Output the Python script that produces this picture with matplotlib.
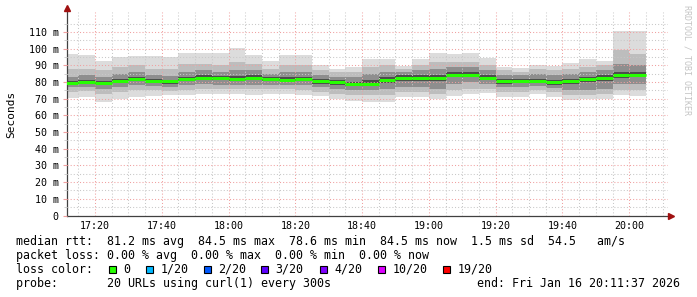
import numpy as np
import pandas as pd
import matplotlib
matplotlib.use("Agg")
import matplotlib.pyplot as plt
import matplotlib.dates as mdates
from matplotlib.patches import Rectangle

# zeitfenster und 5-min bins
t_start = pd.Timestamp("2026-01-16 17:11:37")
t_end = pd.Timestamp("2026-01-16 20:11:37")
bins = pd.date_range("2026-01-16 17:10", "2026-01-16 20:00", freq="5min")

# median rtt (ms) pro bin
median = [79.4, 80.0, 79.4, 80.8, 81.8, 80.8, 80.8, 81.6, 82.4, 82.2,
          82.0, 82.4, 81.8, 81.2, 81.6, 80.4, 79.8, 78.6, 79.0, 81.2,
          82.2, 82.2, 82.2, 84.5, 84.5, 82.6, 80.4, 80.6, 80.6, 79.8,
          80.8, 81.8, 82.2, 84.0, 84.5]

# smoke: min / p10 / p25 / p40 / p60 / p75 / p90 / max
rtt_min = [70.6, 71.2, 68.2, 70.0, 71.2, 71.8, 72.0, 72.4, 73.0, 72.6,
           73.0, 72.4, 72.8, 73.0, 72.4, 71.4, 69.8, 68.8, 68.2, 68.2,
           71.2, 70.8, 69.6, 71.4, 72.6, 73.4, 71.2, 71.2, 72.6, 71.2,
           69.4, 69.7, 70.0, 72.2, 71.8]
p10 = [74.0, 74.5, 73.0, 74.0, 75.0, 75.0, 74.5, 75.5, 76.0, 76.0,
       76.0, 76.0, 76.0, 76.0, 75.5, 74.0, 73.0, 72.0, 72.0, 72.0,
       74.0, 74.0, 73.0, 75.0, 76.0, 76.0, 74.0, 74.0, 75.0, 74.0,
       72.0, 72.0, 73.0, 75.0, 75.0]
p25 = [77.0, 77.0, 76.0, 77.0, 78.0, 77.5, 77.0, 78.0, 79.0, 78.5,
       78.5, 78.5, 78.5, 78.5, 78.0, 77.0, 76.0, 75.0, 75.0, 76.0,
       77.0, 77.0, 76.0, 79.0, 80.0, 79.0, 77.0, 77.0, 77.5, 76.5,
       75.0, 75.0, 76.0, 79.0, 79.0]
p40 = [78.5, 79.0, 78.0, 79.5, 80.5, 79.5, 79.0, 80.5, 81.0, 81.0,
       80.5, 81.0, 80.5, 80.0, 80.5, 79.0, 78.5, 77.5, 77.5, 79.5,
       80.5, 80.5, 80.5, 83.0, 83.0, 81.5, 79.0, 79.5, 79.5, 78.5,
       79.0, 80.0, 80.5, 82.5, 83.0]
p60 = [80.5, 81.0, 80.5, 82.0, 83.0, 82.0, 81.5, 83.0, 84.0, 83.5,
       83.5, 84.0, 83.0, 83.0, 83.0, 82.0, 81.0, 80.0, 81.0, 83.0,
       84.0, 84.0, 84.0, 86.0, 86.0, 84.0, 82.0, 82.0, 82.0, 81.0,
       82.0, 83.0, 84.0, 86.0, 86.0]
p75 = [83.0, 84.0, 83.0, 85.0, 86.0, 84.0, 83.5, 86.0, 87.0, 86.0,
       87.0, 87.0, 85.0, 86.0, 86.0, 84.0, 83.0, 83.0, 85.0, 86.0,
       86.0, 87.0, 88.0, 89.0, 89.0, 87.0, 84.0, 84.0, 85.0, 84.0,
       85.0, 86.0, 87.0, 91.0, 90.0]
p90 = [88.0, 88.0, 87.0, 89.0, 90.0, 88.0, 88.0, 91.0, 91.0, 90.0,
       92.0, 91.0, 88.0, 90.0, 90.0, 87.0, 86.0, 86.0, 89.0, 90.0,
       88.0, 90.0, 92.0, 92.0, 92.0, 90.0, 87.0, 86.0, 88.0, 87.0,
       88.0, 89.0, 90.0, 99.0, 97.0]
rtt_max = [96.6, 96.0, 92.6, 95.2, 95.6, 95.6, 95.2, 97.4, 97.2, 97.2,
           100.4, 96.5, 92.4, 96.2, 96.2, 90.5, 87.8, 88.8, 93.8, 93.8,
           89.8, 93.8, 97.2, 96.8, 97.2, 94.4, 89.0, 88.2, 90.4, 89.7,
           91.2, 93.7, 92.6, 110.6, 110.6]

loss_labels = ["0", "1/20", "2/20", "3/20", "4/20", "10/20", "19/20"]
loss_colors = ["#26ff00", "#00b8ff", "#0059ff", "#5e00ff", "#7e00ff", "#dd00ff", "#ff0000"]

W, H = 697, 297
MONO = "DejaVu Sans Mono"

def fx(px):
    return px / W

def fy(py):
    return 1 - py / H

fig = plt.figure(figsize=(W / 100, H / 100), dpi=100)
fig.patch.set_facecolor("white")
ax = fig.add_axes([fx(67), fy(215.5), 601 / W, 203.5 / H])

x = mdates.date2num(bins.to_pydatetime())
w = 5 / 1440.0

# smoke, von aussen nach innen
bands = [(rtt_min, rtt_max, "#dcdcdc"),
         (p10, p90, "#bdbdbd"),
         (p25, p75, "#8e8e8e"),
         (p40, p60, "#4c4c4c")]
for lo, hi, c in bands:
    lo = np.array(lo)
    hi = np.array(hi)
    ax.bar(x, hi - lo, bottom=lo, width=w, align="edge", color=c, lw=0, zorder=1)

ax.hlines(median, x, x + w, colors=loss_colors[0], lw=2.2, zorder=4)

ax.set_xlim(mdates.date2num(t_start.to_pydatetime()), mdates.date2num(t_end.to_pydatetime()))
ax.set_ylim(0, 122)

ax.xaxis.set_major_locator(mdates.MinuteLocator(byminute=[0, 20, 40]))
ax.xaxis.set_minor_locator(mdates.MinuteLocator(byminute=range(0, 60, 5)))
ax.xaxis.set_major_formatter(mdates.DateFormatter("%H:%M"))
yt = np.arange(0, 111, 10)
ax.set_yticks(yt)
ax.set_yticklabels(["0"] + ["%d m" % v for v in yt[1:]])
ax.set_yticks(np.arange(5, 121, 10), minor=True)

ax.set_axisbelow(False)
dots = (0, (1, 2))
ax.grid(which="major", color="#f0a0a0", ls=dots, lw=0.75)
ax.grid(which="minor", color="#c8c8c8", ls=dots, lw=0.75)

for lab in ax.get_xticklabels() + ax.get_yticklabels():
    lab.set_family(MONO)
    lab.set_fontsize(7.2)
ax.tick_params(axis="x", which="both", length=0, pad=4)
ax.tick_params(axis="y", which="major", length=3, color="#f0a0a0", pad=3)
ax.tick_params(axis="y", which="minor", length=2, color="#c8c8c8")

for s in ["top", "right"]:
    ax.spines[s].set_visible(False)
for s in ["left", "bottom"]:
    ax.spines[s].set_color("#404040")
    ax.spines[s].set_linewidth(0.9)
ax.set_facecolor("white")

# pfeile an den achsen
fig.add_artist(plt.Line2D([fx(67)], [fy(8)], marker="^", ms=4.5, color="#a01010", transform=fig.transFigure))
fig.add_artist(plt.Line2D([fx(671)], [fy(215.5)], marker=">", ms=4.5, color="#a01010", transform=fig.transFigure))

fig.text(fx(11), fy(114.5), "Seconds", rotation=90, ha="center", va="center", family=MONO, fontsize=8)
fig.text(fx(687), fy(60), "RRDTOOL / TOBI OETIKER", rotation=270, ha="center", va="center",
         family=MONO, fontsize=6, color="#c4c4c4")

# legende unten
lines = ["median rtt:  81.2 ms avg  84.5 ms max  78.6 ms min  84.5 ms now  1.5 ms sd  54.5   am/s",
         "packet loss: 0.00 % avg  0.00 % max  0.00 % min  0.00 % now",
         "loss color:",
         "probe:       20 URLs using curl(1) every 300s"]
for i, t in enumerate(lines):
    fig.text(fx(16.5), fy(241.5 + 14 * i), t, ha="left", va="center", family=MONO, fontsize=8.35)
fig.text(fx(680), fy(283.5), "end: Fri Jan 16 20:11:37 2026", ha="right", va="center",
         family=MONO, fontsize=8.35)

sq_x = [109, 146, 203.5, 261, 320, 378, 442.7]
for px, lab, c in zip(sq_x, loss_labels, loss_colors):
    fig.add_artist(Rectangle((fx(px), fy(273)), 7 / W, 7.5 / H, transform=fig.transFigure,
                             facecolor=c, edgecolor="black", lw=0.8))
    fig.text(fx(px + 14.5), fy(269.5), lab, ha="left", va="center", family=MONO, fontsize=8.35)

fig.savefig("out.png", dpi=100)
